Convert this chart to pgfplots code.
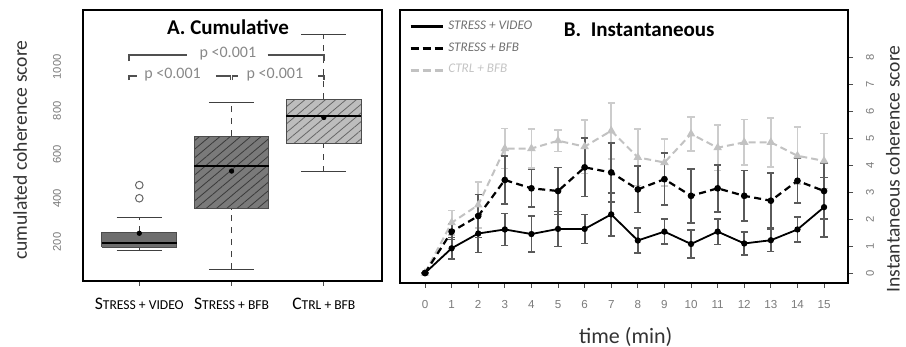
\documentclass[border=0pt]{standalone}
\usepackage{fontspec}
\setmainfont{Carlito}
\newfontfamily\arialf{Liberation Sans}
\usepackage{pgfplots}
\usepackage{pgfplotstable}
\pgfplotsset{compat=1.18}
\usetikzlibrary{patterns.meta}

\definecolor{boxA}{HTML}{6E6E6E}
\definecolor{boxB}{HTML}{7A7A7A}
\definecolor{boxC}{HTML}{BDBDBD}
\definecolor{hatchB}{HTML}{3A3A3A}
\definecolor{hatchC}{HTML}{666666}
\definecolor{ticktxt}{HTML}{7A7A7A}
\definecolor{ptxt}{HTML}{888888}
\definecolor{brk}{HTML}{505050}
\definecolor{lser}{HTML}{C2C2C2}
\definecolor{lerr}{HTML}{CCCCCC}
\definecolor{derr}{HTML}{5A5A5A}
\definecolor{legA}{HTML}{707070}
\definecolor{legC}{HTML}{C4C4C4}

\newcommand{\sm}[1]{{\fontsize{6.8}{8}\selectfont #1}}

% time, mean, error
\pgfplotstableread{
t y e
0 0 0
1 0.92 0.40
2 1.47 0.70
3 1.62 0.60
4 1.45 0.67
5 1.64 0.65
6 1.64 0.54
7 2.18 0.80
8 1.21 0.47
9 1.54 0.46
10 1.08 0.52
11 1.54 0.48
12 1.10 0.42
13 1.22 0.42
14 1.62 0.47
15 2.45 1.10
}\sv
\pgfplotstableread{
t y e
0 0 0
1 1.54 0.30
2 2.12 0.80
3 3.46 0.90
4 3.15 0.70
5 3.05 0.87
6 3.93 1.08
7 3.74 1.10
8 3.11 0.86
9 3.49 0.97
10 2.87 1.00
11 3.15 0.87
12 2.87 0.94
13 2.69 1.02
14 3.43 0.83
15 3.05 1.05
}\sb
\pgfplotstableread{
t y e
0 0 0
1 1.87 0.45
2 2.53 0.85
3 4.63 0.75
4 4.63 0.73
5 4.92 0.40
6 4.70 1.00
7 5.29 1.04
8 4.30 1.05
9 4.11 0.87
10 5.17 0.64
11 4.66 0.84
12 4.86 0.85
13 4.86 0.91
14 4.36 1.06
15 4.17 1.02
}\cb

\pgfplotsset{
  whisk/.style={dashed, black!75, line width=0.5pt},
  capst/.style={black!75, line width=0.5pt},
  medst/.style={black, line width=1.3pt},
}

\begin{document}
\begin{tikzpicture}
%================ A. Cumulative ================
\begin{axis}[
  at={(41.5pt,33pt)}, anchor=south west,
  scale only axis, width=149.5pt, height=135.5pt,
  xmin=0.39, xmax=3.63, ymin=22, ymax=1260,
  axis line style={line width=1.2pt},
  xtick={1,2,3},
  xticklabels={S\sm{TRESS + VIDEO}, S\sm{TRESS + BFB}, C\sm{TRL + BFB}},
  xticklabel style={font=\fontsize{8.8}{10}\selectfont, black},
  ytick={200,400,600,800,1000},
  yticklabel style={rotate=90, anchor=south, font=\arialf\fontsize{5.6}{6}\selectfont, text=ticktxt,
    /pgf/number format/set thousands separator={}},
  /pgf/number format/assume math mode=true,
  scaled y ticks=false,
  tick align=outside,
  xtick style={black!70, line width=0.4pt},
  ytick style={draw=none},
  major tick length=2.5pt,
  xtick pos=bottom, ytick pos=left,
  xticklabel shift=2.5pt,
  yticklabel shift=5pt,
  ylabel={cumulated coherence score},
  ylabel style={at={(axis description cs:-0.21,0.483)}, anchor=center, font=\fontsize{9.8}{11}\selectfont, text=black!80},
  clip=false,
]
% --- box 1: STRESS + VIDEO
\addplot[whisk] coordinates {(1,163) (1,177)};
\addplot[whisk] coordinates {(1,245) (1,314)};
\addplot[capst] coordinates {(0.755,163) (1.245,163)};
\addplot[capst] coordinates {(0.755,314) (1.245,314)};
\addplot[fill=boxA, draw=black!70, line width=0.5pt] coordinates {(0.595,177) (1.405,177) (1.405,245) (0.595,245) (0.595,177)};
\addplot[medst] coordinates {(0.595,195) (1.405,195)};
% --- box 2: STRESS + BFB
\addplot[whisk] coordinates {(2,76) (2,351)};
\addplot[whisk] coordinates {(2,684) (2,839)};
\addplot[capst] coordinates {(1.755,76) (2.245,76)};
\addplot[capst] coordinates {(1.755,839) (2.245,839)};
\addplot[fill=boxB, draw=black!70, line width=0.5pt,
  postaction={pattern={Lines[angle=40,distance=3.3pt,line width=0.4pt]}, pattern color=hatchB}]
  coordinates {(1.595,351) (2.405,351) (2.405,684) (1.595,684) (1.595,351)};
\addplot[medst] coordinates {(1.595,547) (2.405,547)};
% --- box 3: CTRL + BFB
\addplot[whisk] coordinates {(3,520) (3,648)};
\addplot[whisk] coordinates {(3,853) (3,1150)};
\addplot[capst] coordinates {(2.755,520) (3.245,520)};
\addplot[capst] coordinates {(2.755,1150) (3.245,1150)};
\addplot[fill=boxC, draw=black!70, line width=0.5pt,
  postaction={pattern={Lines[angle=40,distance=3.3pt,line width=0.4pt]}, pattern color=hatchC}]
  coordinates {(2.595,648) (3.405,648) (3.405,853) (2.595,853) (2.595,648)};
\addplot[medst] coordinates {(2.595,776) (3.405,776)};
% outliers
\addplot[only marks, mark=o, mark size=1.9pt, black!60, mark options={line width=0.5pt}] coordinates {(1,400) (1,460)};
% means
\addplot[only marks, mark=*, mark size=1.1pt, black] coordinates {(1,240) (2,524) (3,769)};
% significance brackets
\draw[brk, line width=0.7pt] (axis cs:0.89,1026) -- (axis cs:0.89,1054) -- (axis cs:1.52,1054);
\draw[brk, line width=0.7pt] (axis cs:2.39,1054) -- (axis cs:3.0,1054) -- (axis cs:3.0,1026);
\node[text=ptxt, font=\fontsize{8}{9}\selectfont] at (axis cs:1.96,1062) {p <0.001};
\draw[brk, line width=0.7pt] (axis cs:0.89,940) -- (axis cs:0.89,958) -- (axis cs:0.98,958);
\node[text=ptxt, font=\fontsize{8}{9}\selectfont] at (axis cs:1.36,964) {p <0.001};
\draw[brk, line width=0.7pt] (axis cs:1.83,958) -- (axis cs:1.99,958) -- (axis cs:1.99,940);
\draw[brk, line width=0.7pt] (axis cs:2.01,940) -- (axis cs:2.01,958) -- (axis cs:2.07,958);
\node[text=ptxt, font=\fontsize{8}{9}\selectfont] at (axis cs:2.47,964) {p <0.001};
\draw[brk, line width=0.7pt] (axis cs:2.94,958) -- (axis cs:3.0,958) -- (axis cs:3.0,940);
\node[font=\bfseries\fontsize{10.5}{12}\selectfont] at (rel axis cs:0.485,0.937) {A. Cumulative};
\end{axis}

%================ B. Instantaneous ================
\begin{axis}[
  at={(200pt,32pt)}, anchor=south west,
  scale only axis, width=224pt, height=136.5pt,
  xmin=-0.94, xmax=15.9, ymin=-0.37, ymax=9.78,
  axis line style={line width=1.2pt},
  xtick={0,1,...,15},
  ytick={0,1,...,8},
  xtick pos=bottom, ytick pos=right,
  yticklabel pos=right,
  tick align=outside,
  major tick length=2.5pt,
  tick style={black!70, line width=0.4pt},
  /pgf/number format/assume math mode=true,
  xticklabel style={font=\arialf\fontsize{5.8}{6}\selectfont, text=ticktxt},
  yticklabel style={rotate=90, anchor=north, font=\arialf\fontsize{5.6}{6}\selectfont, text=ticktxt},
  xticklabel shift=2.5pt,
  yticklabel shift=3pt,
  xlabel={time (min)},
  xlabel style={at={(axis description cs:0.504,-0.198)}, anchor=center, font=\fontsize{11}{12}\selectfont, text=black!80},
  ylabel={Instantaneous coherence score},
  ylabel style={at={(axis description cs:1.1,0.418)}, anchor=center, font=\fontsize{9.8}{11}\selectfont, text=black!80},
  legend cell align=left,
  legend style={at={(rel axis cs:0.015,0.985)}, anchor=north west, draw=none, fill=none,
    font=\itshape\fontsize{6.6}{7}\selectfont, row sep=1.2pt, inner sep=1pt},
  legend image code/.code={\draw[#1] (0pt,0pt) -- (16pt,0pt);},
  clip=false,
]
\addlegendimage{black, line width=1.3pt}
\addlegendentry{\textcolor{legA}{STRESS + VIDEO}}
\addlegendimage{black, line width=1.6pt, dash pattern=on 4pt off 2pt}
\addlegendentry{\textcolor{legA}{STRESS + BFB}}
\addlegendimage{lser, line width=1.6pt, dash pattern=on 4pt off 2pt}
\addlegendentry{\textcolor{legC}{CTRL + BFB}}
% CTRL + BFB
\addplot[lser, line width=1pt, dash pattern=on 3.5pt off 2pt, mark=triangle*, mark size=1.5pt,
  mark options={solid, fill=lser}, forget plot,
  error bars/.cd, y dir=both, y explicit,
  error bar style={draw=lerr, line width=0.9pt, solid},
  error mark options={rotate=90, draw=lerr, mark size=1.8pt, line width=0.8pt, solid}]
  table[x=t, y=y, y error=e] {\cb};
% STRESS + BFB
\addplot[black, line width=1.1pt, dash pattern=on 3.5pt off 2.2pt, mark=*, mark size=1.1pt,
  mark options={solid}, forget plot,
  error bars/.cd, y dir=both, y explicit,
  error bar style={draw=derr, line width=0.9pt, solid},
  error mark options={rotate=90, draw=derr, mark size=1.8pt, line width=0.8pt, solid}]
  table[x=t, y=y, y error=e] {\sb};
% STRESS + VIDEO
\addplot[black, line width=0.9pt, mark=*, mark size=1.1pt, forget plot,
  error bars/.cd, y dir=both, y explicit,
  error bar style={draw=derr, line width=0.9pt, solid},
  error mark options={rotate=90, draw=derr, mark size=1.8pt, line width=0.8pt, solid}]
  table[x=t, y=y, y error=e] {\sv};
\node[anchor=west, font=\bfseries\fontsize{10.5}{12}\selectfont] at (rel axis cs:0.35,0.927) {B.\ \ Instantaneous};
\end{axis}
\pgfresetboundingbox
\path[use as bounding box] (0,0) rectangle (453pt,173.5pt);
\end{tikzpicture}
\end{document}
